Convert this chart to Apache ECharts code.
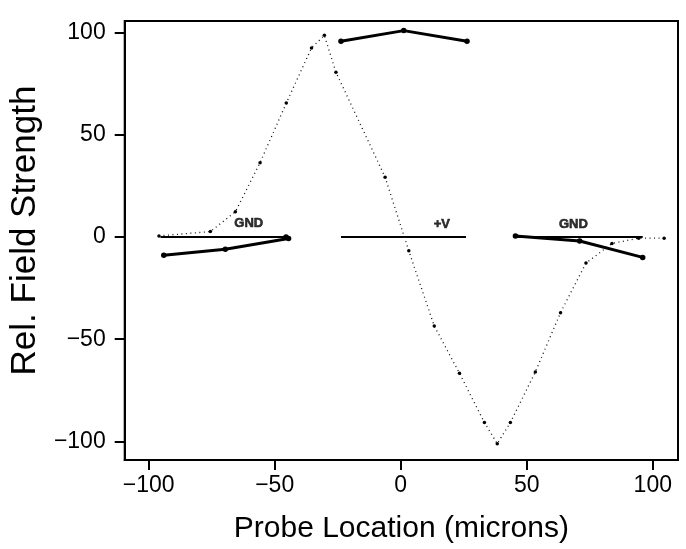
<!DOCTYPE html>
<html>
<head>
<meta charset="utf-8">
<script src="https://cdn.jsdelivr.net/npm/echarts@6/dist/echarts.min.js"></script>
<style>
  html, body { margin: 0; padding: 0; background: #fff; }
  #chart { width: 686px; height: 549px; }
</style>
</head>
<body>
<div id="chart"></div>
<script>
  // measured field (dotted curve)
  const fieldX = [-95.9, -75.5, -65.6, -55.8, -45.4, -35.4, -30.3, -25.7, -6.2, 3.2, 13.3, 23.3, 33.2, 38.3, 43.5, 53.4, 63.4, 73.5, 83.8, 94.4, 104.5];
  const fieldY = [0.5, 2.6, 12.3, 36.3, 65.4, 92.3, 98.5, 80.5, 29.2, -6.8, -43.5, -66.6, -90.7, -101, -90.7, -66, -37, -12.8, -3.2, -0.6, -0.6];

  // thick traces over each electrode
  const topX = [-23.7, 1.2, 26.3];
  const topY = [95.6, 100.8, 95.6];
  const leftX = [-94, -69.6, -44.5, -45.5];
  const leftY = [-9, -6, -0.8, 0];
  const rightX = [45.5, 71, 96];
  const rightY = [0.5, -2, -10];

  // electrodes (thin lines at 0)
  const electrodes = [[-95.3, -44.5], [-23.7, 25.9], [45.5, 96]];
  const electrodeNames = ['GND', '+V', 'GND'];
  const labelX = [-60.3, 16.3, 68.5];
  const labelY = [6.5, 6, 6];

  const xTicks = [-100, -50, 0, 50, 100];
  const yTicks = [-100, -50, 0, 50, 100];

  function pairs (xs, ys) {
    let out = [];
    for (let i = 0; i < xs.length; i++) {
      out.push([xs[i], ys[i]]);
    }
    return out;
  }

  function minus (v) {
    return String(v).replace('-', '\u2212');
  }

  let series = [];
  for (let i = 0; i < electrodes.length; i++) {
    series.push({
      type: 'line',
      data: [[electrodes[i][0], 0], [electrodes[i][1], 0]],
      symbol: 'none',
      lineStyle: { color: '#000', width: 2 },
      z: 2
    });
  }
  series.push({
    type: 'line',
    data: pairs(fieldX, fieldY),
    symbol: 'circle',
    symbolSize: 3.5,
    itemStyle: { color: '#000' },
    lineStyle: { color: '#111', width: 1.3, type: [1, 3.5] },
    z: 3
  });
  [[topX, topY], [leftX, leftY], [rightX, rightY]].forEach(function (s) {
    series.push({
      type: 'line',
      data: pairs(s[0], s[1]),
      symbol: 'circle',
      symbolSize: 5.5,
      itemStyle: { color: '#000' },
      lineStyle: { color: '#000', width: 3 },
      z: 4
    });
  });
  let labelData = [];
  for (let i = 0; i < electrodeNames.length; i++) {
    labelData.push({ value: [labelX[i], labelY[i]], name: electrodeNames[i] });
  }
  series.push({
    type: 'scatter',
    data: labelData,
    symbolSize: 0,
    label: {
      show: true,
      position: 'inside',
      formatter: '{b}',
      color: '#000',
      fontFamily: 'Liberation Sans',
      fontWeight: 'bold',
      fontSize: 13,
      textBorderColor: '#000',
      textBorderWidth: 0.6
    },
    z: 5
  });

  let myChart = echarts.init(document.getElementById('chart'));
  myChart.setOption({
    animation: false,
    grid: {
      left: 124,
      right: 8,
      top: 21,
      bottom: 88,
      show: true,
      borderColor: '#000',
      borderWidth: 2
    },
    xAxis: {
      type: 'value',
      min: -109.5,
      max: 110,
      name: 'Probe Location (microns)',
      nameLocation: 'middle',
      nameGap: 54,
      nameTextStyle: { fontFamily: 'Liberation Sans', fontSize: 30, color: '#000' },
      axisLine: { show: true, onZero: false, lineStyle: { color: '#000', width: 2 } },
      axisTick: { show: true, inside: false, length: 10, lineStyle: { color: '#000', width: 2 }, customValues: xTicks },
      axisLabel: {
        customValues: xTicks,
        margin: 14,
        fontFamily: 'Liberation Sans',
        fontSize: 23,
        color: '#000',
        formatter: minus
      },
      splitLine: { show: false }
    },
    yAxis: {
      type: 'value',
      min: -109,
      max: 105.5,
      name: 'Rel. Field Strength',
      nameLocation: 'middle',
      nameGap: 78,
      nameTextStyle: { fontFamily: 'Liberation Sans', fontSize: 35, color: '#000', padding: [0, 0, 0, 20] },
      axisLine: { show: true, onZero: false, lineStyle: { color: '#000', width: 2 } },
      axisTick: { show: true, inside: false, length: 10, lineStyle: { color: '#000', width: 2 }, customValues: yTicks },
      axisLabel: {
        customValues: yTicks,
        margin: 19,
        fontFamily: 'Liberation Sans',
        fontSize: 23,
        color: '#000',
        formatter: minus
      },
      splitLine: { show: false }
    },
    series: series
  });
</script>
</body>
</html>
